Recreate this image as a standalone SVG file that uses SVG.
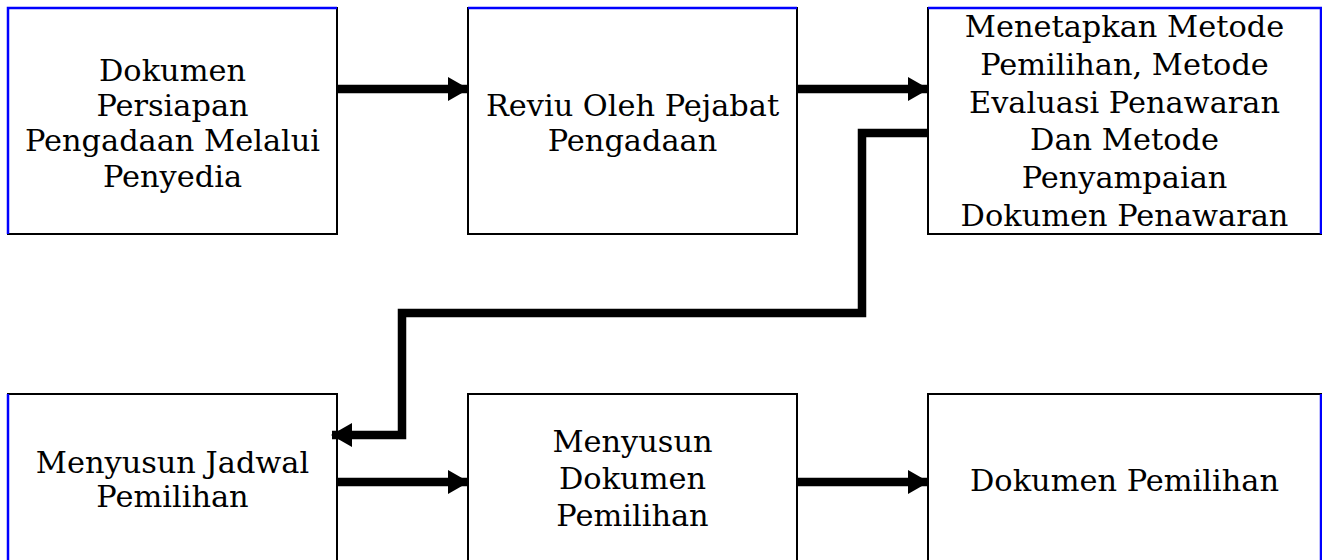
<svg xmlns="http://www.w3.org/2000/svg" width="1322" height="560" viewBox="0 0 1322 560">
<style>
.box{fill:#fff;stroke:#000;stroke-width:2}
.edge{stroke:#0000ff;stroke-width:2.5;fill:none}
.t{font-family:"DejaVu Serif","Liberation Serif",serif;font-size:30.4px;fill:#000;text-anchor:middle}
.c{fill:none;stroke:#000;stroke-width:8.5}
</style>
<defs>
<marker id="ah" viewBox="0 0 21 24" refX="20" refY="12" markerWidth="2.47" markerHeight="2.82" markerUnits="strokeWidth" orient="auto">
<path d="M0,0 L21,12 L0,24 z" fill="#000"/>
</marker>
</defs>
<g id="n1">
<rect class="box" x="8" y="8" width="329" height="226"/>
<path class="edge" d="M8,234 V8 H337"/>
<text class="t" x="172.5" y="81">Dokumen</text>
<text class="t" x="172.5" y="116">Persiapan</text>
<text class="t" x="172.5" y="151">Pengadaan Melalui</text>
<text class="t" x="172.5" y="187">Penyedia</text>
</g>
<g id="n2">
<rect class="box" x="468" y="8" width="329" height="226"/>
<path class="edge" d="M468,8 H797"/>
<text class="t" x="632.5" y="116">Reviu Oleh Pejabat</text>
<text class="t" x="632.5" y="151">Pengadaan</text>
</g>
<g id="n3">
<rect class="box" x="928" y="8" width="393" height="226"/>
<path class="edge" d="M928,8 H1321 V234"/>
<text class="t" x="1124.5" y="37">Menetapkan Metode</text>
<text class="t" x="1124.5" y="75">Pemilihan, Metode</text>
<text class="t" x="1124.5" y="113">Evaluasi Penawaran</text>
<text class="t" x="1124.5" y="150">Dan Metode</text>
<text class="t" x="1124.5" y="188">Penyampaian</text>
<text class="t" x="1124.5" y="226">Dokumen Penawaran</text>
</g>
<g id="n4">
<rect class="box" x="8" y="394" width="329" height="180"/>
<path class="edge" d="M8,394 V560"/>
<text class="t" x="172.5" y="473">Menyusun Jadwal</text>
<text class="t" x="172.5" y="507">Pemilihan</text>
</g>
<g id="n5">
<rect class="box" x="468" y="394" width="329" height="180"/>
<text class="t" x="632.5" y="452">Menyusun</text>
<text class="t" x="632.5" y="489">Dokumen</text>
<text class="t" x="632.5" y="526">Pemilihan</text>
</g>
<g id="n6">
<rect class="box" x="928" y="394" width="393" height="180"/>
<path class="edge" d="M1321,394 V560"/>
<text class="t" x="1124.5" y="491">Dokumen Pemilihan</text>
</g>
<g id="connectors">
<path class="c" d="M337,89 H468" marker-end="url(#ah)"/>
<path class="c" d="M797,89 H928" marker-end="url(#ah)"/>
<path class="c" d="M928,133 H862 V313 H402 V435 H332" marker-end="url(#ah)"/>
<path class="c" d="M337,482 H468" marker-end="url(#ah)"/>
<path class="c" d="M797,482 H928" marker-end="url(#ah)"/>
</g>
</svg>
